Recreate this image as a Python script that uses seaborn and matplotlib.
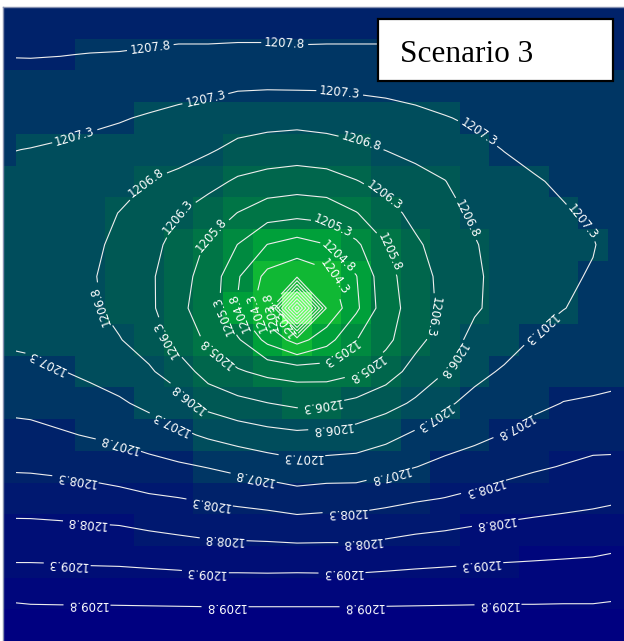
import numpy as np
import matplotlib
matplotlib.use("Agg")
import matplotlib.pyplot as plt
from matplotlib.colors import ListedColormap, BoundaryNorm
from matplotlib.patches import Rectangle
import seaborn as sns

# Simulated hydraulic head (m) at model cell centres, one list per model row (north to south)
head_r00 = [1208.05, 1208.03, 1208.02, 1208.00, 1207.99, 1207.98, 1207.98, 1207.98, 1207.98, 1207.98, 1207.98, 1207.98, 1207.98, 1207.98, 1207.98, 1207.98, 1207.98, 1207.99, 1207.99, 1207.99, 1207.99, 1208.00]
head_r01 = [1207.82, 1207.82, 1207.81, 1207.79, 1207.78, 1207.75, 1207.71, 1207.71, 1207.69, 1207.69, 1207.72, 1207.71, 1207.71, 1207.71, 1207.72, 1207.73, 1207.75, 1207.77, 1207.78, 1207.79, 1207.81, 1207.82]
head_r02 = [1207.60, 1207.65, 1207.63, 1207.60, 1207.56, 1207.51, 1207.45, 1207.41, 1207.35, 1207.34, 1207.35, 1207.35, 1207.38, 1207.42, 1207.46, 1207.51, 1207.56, 1207.61, 1207.65, 1207.68, 1207.71, 1207.72]
head_r03 = [1207.45, 1207.47, 1207.43, 1207.38, 1207.33, 1207.26, 1207.19, 1207.13, 1207.03, 1206.98, 1206.95, 1207.00, 1207.06, 1207.10, 1207.19, 1207.28, 1207.36, 1207.46, 1207.52, 1207.57, 1207.62, 1207.65]
head_r04 = [1207.32, 1207.29, 1207.25, 1207.20, 1207.14, 1207.02, 1206.96, 1206.86, 1206.67, 1206.58, 1206.55, 1206.59, 1206.69, 1206.81, 1206.91, 1207.03, 1207.19, 1207.31, 1207.39, 1207.46, 1207.53, 1207.60]
head_r05 = [1207.20, 1207.18, 1207.12, 1207.07, 1206.97, 1206.79, 1206.69, 1206.46, 1206.23, 1206.12, 1206.05, 1206.11, 1206.28, 1206.46, 1206.66, 1206.79, 1207.03, 1207.16, 1207.27, 1207.35, 1207.44, 1207.55]
head_r06 = [1207.10, 1207.08, 1207.00, 1206.96, 1206.79, 1206.62, 1206.31, 1206.06, 1205.79, 1205.52, 1205.45, 1205.50, 1205.78, 1206.12, 1206.44, 1206.65, 1206.88, 1207.06, 1207.18, 1207.27, 1207.35, 1207.50]
head_r07 = [1207.05, 1207.03, 1206.95, 1206.88, 1206.72, 1206.48, 1206.10, 1205.74, 1205.29, 1204.79, 1204.60, 1204.79, 1205.21, 1205.78, 1206.22, 1206.53, 1206.77, 1206.99, 1207.13, 1207.23, 1207.28, 1207.48]
head_r08 = [1207.05, 1207.02, 1206.93, 1206.84, 1206.67, 1206.40, 1205.93, 1205.66, 1204.85, 1204.15, 1203.90, 1204.14, 1204.78, 1205.65, 1206.05, 1206.47, 1206.73, 1206.96, 1207.12, 1207.24, 1207.33, 1207.50]
head_r09 = [1207.10, 1207.06, 1206.97, 1206.87, 1206.68, 1206.42, 1205.88, 1205.63, 1204.76, 1203.90, 1199.50, 1203.85, 1204.70, 1205.60, 1206.00, 1206.45, 1206.74, 1206.98, 1207.18, 1207.29, 1207.40, 1207.55]
head_r10 = [1207.25, 1207.20, 1207.10, 1206.98, 1206.82, 1206.60, 1206.10, 1205.72, 1205.36, 1204.66, 1204.10, 1204.60, 1205.29, 1205.68, 1206.15, 1206.55, 1206.95, 1207.12, 1207.33, 1207.47, 1207.50, 1207.62]
head_r11 = [1207.45, 1207.42, 1207.32, 1207.20, 1207.08, 1206.86, 1206.56, 1206.09, 1205.85, 1205.68, 1205.60, 1205.57, 1205.73, 1206.06, 1206.49, 1206.79, 1207.18, 1207.35, 1207.52, 1207.63, 1207.64, 1207.72]
head_r12 = [1207.70, 1207.66, 1207.58, 1207.49, 1207.36, 1207.19, 1206.99, 1206.64, 1206.44, 1206.31, 1206.20, 1206.28, 1206.42, 1206.63, 1206.87, 1207.23, 1207.43, 1207.58, 1207.71, 1207.81, 1207.85, 1207.87]
head_r13 = [1207.95, 1207.93, 1207.85, 1207.77, 1207.69, 1207.56, 1207.40, 1207.23, 1207.09, 1206.97, 1206.90, 1206.93, 1207.00, 1207.15, 1207.38, 1207.57, 1207.69, 1207.82, 1207.95, 1208.05, 1208.12, 1208.12]
head_r14 = [1208.25, 1208.23, 1208.19, 1208.13, 1208.06, 1207.96, 1207.87, 1207.78, 1207.67, 1207.56, 1207.45, 1207.50, 1207.52, 1207.66, 1207.79, 1207.92, 1208.02, 1208.14, 1208.24, 1208.32, 1208.40, 1208.42]
head_r15 = [1208.55, 1208.57, 1208.54, 1208.50, 1208.44, 1208.36, 1208.31, 1208.24, 1208.18, 1208.11, 1208.02, 1208.07, 1208.07, 1208.15, 1208.24, 1208.31, 1208.40, 1208.50, 1208.58, 1208.64, 1208.69, 1208.75]
head_r16 = [1208.95, 1208.93, 1208.91, 1208.88, 1208.86, 1208.79, 1208.73, 1208.67, 1208.64, 1208.62, 1208.57, 1208.59, 1208.59, 1208.66, 1208.74, 1208.79, 1208.86, 1208.91, 1208.95, 1208.98, 1209.02, 1209.10]
head_r17 = [1209.29, 1209.29, 1209.28, 1209.25, 1209.24, 1209.21, 1209.18, 1209.13, 1209.13, 1209.12, 1209.13, 1209.12, 1209.12, 1209.16, 1209.20, 1209.23, 1209.26, 1209.29, 1209.31, 1209.33, 1209.35, 1209.40]
head_r18 = [1209.70, 1209.67, 1209.66, 1209.66, 1209.65, 1209.64, 1209.63, 1209.62, 1209.62, 1209.62, 1209.62, 1209.62, 1209.62, 1209.63, 1209.64, 1209.65, 1209.66, 1209.67, 1209.67, 1209.68, 1209.68, 1209.72]
head_r19 = [1210.10, 1210.05, 1210.05, 1210.05, 1210.05, 1210.05, 1210.05, 1210.05, 1210.05, 1210.05, 1210.05, 1210.05, 1210.05, 1210.05, 1210.05, 1210.05, 1210.05, 1210.05, 1210.05, 1210.05, 1210.05, 1210.10]

# Contour levels (m) and the fill colour of each head band, lowest band first
contour_levels = [1199.8, 1200.3, 1200.8, 1201.3, 1201.8, 1202.3, 1202.8, 1203.3, 1203.8, 1204.3,
                  1204.8, 1205.3, 1205.8, 1206.3, 1206.8, 1207.3, 1207.8, 1208.3, 1208.8, 1209.3, 1209.8]
band_colors = ['#5cff5c', '#50f850', '#46f046', '#3ce83c', '#32e032', '#2ad82e', '#22cc2c', '#1ac42e',
               '#14bc30', '#10b834', '#00a03a', '#008a40', '#007546', '#00664c', '#005854', '#004d5c',
               '#003664', '#00226a', '#001870', '#000e76', '#00067c', '#000080']

# Where each contour carries its labels (figure pixels from the top-left corner)
label_spots = {
    1209.8: [(87, 605), (225, 605), (363, 605), (498, 605)],
    1209.3: [(67, 567), (205, 576), (342, 580), (480, 567)],
    1208.8: [(86, 527), (223, 541), (361, 537), (495, 522)],
    1208.3: [(75, 482), (209, 507), (346, 510), (482, 482)],
    1207.8: [(150, 45), (285, 40), (118, 447), (253, 481), (388, 470), (515, 428)],
    1207.3: [(75, 137), (205, 97), (340, 90), (480, 130), (587, 218),
             (48, 360), (170, 425), (302, 460), (436, 420), (540, 328)],
    1206.8: [(145, 182), (362, 140), (468, 218), (106, 305), (455, 362), (187, 400), (332, 430)],
    1206.3: [(182, 219), (384, 196), (435, 317), (165, 340), (322, 412)],
    1205.8: [(212, 236), (390, 252), (217, 352), (372, 375)],
    1205.3: [(335, 223), (213, 322), (343, 357)],
    1204.8: [(340, 255), (230, 320)],
    1204.3: [(348, 272), (245, 322)],
    1203.8: [(252, 330)],
    1203.3: [(262, 338)],
}

head = np.array([head_r00, head_r01, head_r02, head_r03, head_r04, head_r05, head_r06,
                 head_r07, head_r08, head_r09, head_r10, head_r11, head_r12, head_r13,
                 head_r14, head_r15, head_r16, head_r17, head_r18, head_r19])
nrow, ncol = head.shape

W, H = 624, 641
fig = plt.figure(figsize=(W / 100, H / 100), dpi=100)
ax = fig.add_axes([3 / W, 0, (W - 3) / W, (H - 7) / H])

# grid geometry in figure pixels: cell width/height and position of the first cell edge
cell_w, cell_h, x0_px, y0_px = 29.6, 31.7, -13.8, 7.0


def px_to_grid(px, py):
    return (px - x0_px) / cell_w, (py - y0_px) / cell_h


bounds = [1199.0] + contour_levels + [1210.6]
cmap = ListedColormap(band_colors)
norm = BoundaryNorm(bounds, ncolors=len(band_colors))

sns.heatmap(head, ax=ax, cmap=cmap, norm=norm, cbar=False,
            xticklabels=False, yticklabels=False, linewidths=0)

ax.set_xlim(px_to_grid(3, 0)[0], px_to_grid(W, 0)[0])
ax.set_ylim(px_to_grid(0, H)[1], 0)

xc = np.arange(ncol) + 0.5
yc = np.arange(nrow) + 0.5

# lines end just inside the model boundary
gx0 = px_to_grid(16, 0)[0]
gx1 = px_to_grid(611, 0)[0]

texts = []
for lev in contour_levels:
    cs = ax.contour(xc, yc, head, levels=[lev], colors='#eeeeee', linewidths=0.8)
    cs.set_clip_path(Rectangle((gx0, -1), gx1 - gx0, nrow + 2, transform=ax.transData))
    if lev in label_spots:
        spots = [px_to_grid(px, py) for px, py in label_spots[lev]]
        texts += list(cs.clabel(manual=spots, inline=True, inline_spacing=3,
                                fontsize=8.5, colors='white', fmt='%.1f'))


def head_at(x, y):
    fx = np.clip(x - 0.5, 0, ncol - 1 - 1e-6)
    fy = np.clip(y - 0.5, 0, nrow - 1 - 1e-6)
    j, i = int(fx), int(fy)
    tx, ty = fx - j, fy - i
    return (head[i, j] * (1 - tx) * (1 - ty) + head[i, j + 1] * tx * (1 - ty)
            + head[i + 1, j] * (1 - tx) * ty + head[i + 1, j + 1] * tx * ty)


# labels follow the line direction with rising head on their left side
p0 = ax.transData.transform((0, 0))
sx = ax.transData.transform((1, 0))[0] - p0[0]
sy = ax.transData.transform((0, 1))[1] - p0[1]
for t in texts:
    x, y = t.get_position()
    d = 0.12
    gx = (head_at(x + d, y) - head_at(x - d, y)) / (2 * d) / sx
    gy = (head_at(x, y + d) - head_at(x, y - d)) / (2 * d) / sy
    ang = np.degrees(np.arctan2(-gx, gy))
    rot = t.get_rotation()
    if np.cos(np.radians(ang - rot)) < 0:
        t.set_rotation((rot + 180) % 360)

for side in ['left', 'top']:
    ax.spines[side].set_visible(True)
    ax.spines[side].set_color('#8590b0')
    ax.spines[side].set_linewidth(1.0)
ax.set_xticks([])
ax.set_yticks([])

# scenario caption box
fig.patches.append(Rectangle((378 / W, 1 - 81 / H), 235 / W, 62 / H, transform=fig.transFigure,
                             facecolor='white', edgecolor='black', linewidth=1.6, zorder=5))
fig.text(400 / W, 1 - 62 / H, 'Scenario 3', family='Liberation Serif', fontsize=22.5,
         ha='left', va='baseline', color='black', zorder=6)

fig.savefig('out.png', dpi=100)
